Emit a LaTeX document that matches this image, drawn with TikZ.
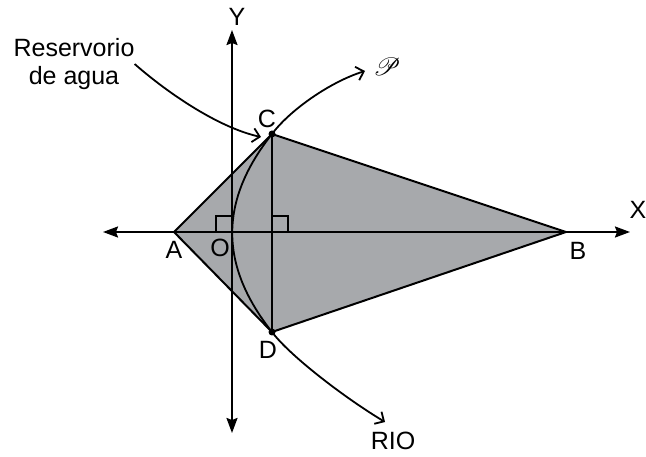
\documentclass[tikz,border=0pt]{standalone}
\usepackage{fontspec}
\setmainfont{Liberation Sans}
\usepackage{mathrsfs}
\usetikzlibrary{arrows.meta}
\definecolor{gris}{RGB}{167,169,172}

\begin{document}
\begin{tikzpicture}[
  x=1pt, y=-1pt,
  lbl/.style={font=\fontsize{25}{28}\selectfont, inner sep=0pt},
  eje/.style={line width=2pt, {Stealth[length=15pt,width=11pt,inset=2pt]}-{Stealth[length=15pt,width=11pt,inset=2pt]}},
  borde/.style={line width=2pt, line join=round},
  recto/.style={line width=1.8pt},
  rio/.style={line width=1.8pt, {Straight Barb[length=7pt,width=14pt]}-{Straight Barb[length=7pt,width=14pt]}},
  flecha/.style={line width=1.8pt, -{Straight Barb[length=7pt,width=14pt]}}
]
\useasboundingbox (0,0) rectangle (646,457);

% puntos
\coordinate (A) at (174,232);
\coordinate (O) at (232,232);
\coordinate (B) at (566,232);
\coordinate (C) at (272,134);
\coordinate (D) at (272,332);
\coordinate (H) at (272,232);
\coordinate (xl) at (103,232);
\coordinate (xr) at (630,232);
\coordinate (yt) at (232,30);
\coordinate (yb) at (232,433);
\coordinate (pend) at (365,71);
\coordinate (rend) at (385,422);
\coordinate (restip) at (261,137);

% cuadrilatero
\fill[gris] (A) -- (C) -- (B) -- (D) -- cycle;
\draw[borde] (A) -- (C) -- (B) -- (D) -- cycle;
\draw[borde] (C) -- (D);

% ejes
\draw[eje] (xl) -- (xr);
\draw[eje] (yb) -- (yt);

% angulos rectos
\draw[recto] (O) ++(-16,0) -- ++(0,-16) -- ++(16,0);
\draw[recto] (H) ++(16,0) -- ++(0,-16) -- ++(-16,0);

% rio
\draw[rio] (pend) .. controls (330,82) and (290,110) .. (C)
  .. controls (219,201) and (219,265) .. (D)
  .. controls (290,356) and (345,398) .. (rend);

\fill (C) circle (3.5);
\fill (D) circle (3.5);

% etiquetas
\node[lbl] (lY) at (237,17) {Y};
\node[lbl] (lX) at (638,210) {X};
\node[lbl] (lC) at (267,119) {C};
\node[lbl] (lA) at (174,250) {A};
\node[lbl] (lO) at (220,248) {O};
\node[lbl] (lB) at (578,251) {B};
\node[lbl] (lD) at (268,350) {D};
\node[lbl] (lRIO) at (393,441) {RIO};
\node[lbl, font=\fontsize{31}{34}\selectfont] (lP) at (387,67) {$\mathscr{P}$};
\node[lbl, align=center] (res) at (74,64) {Reservorio\\de agua};

\draw[flecha] (res.east) .. controls (170,95) and (220,128) .. (restip);

\end{tikzpicture}
\end{document}
